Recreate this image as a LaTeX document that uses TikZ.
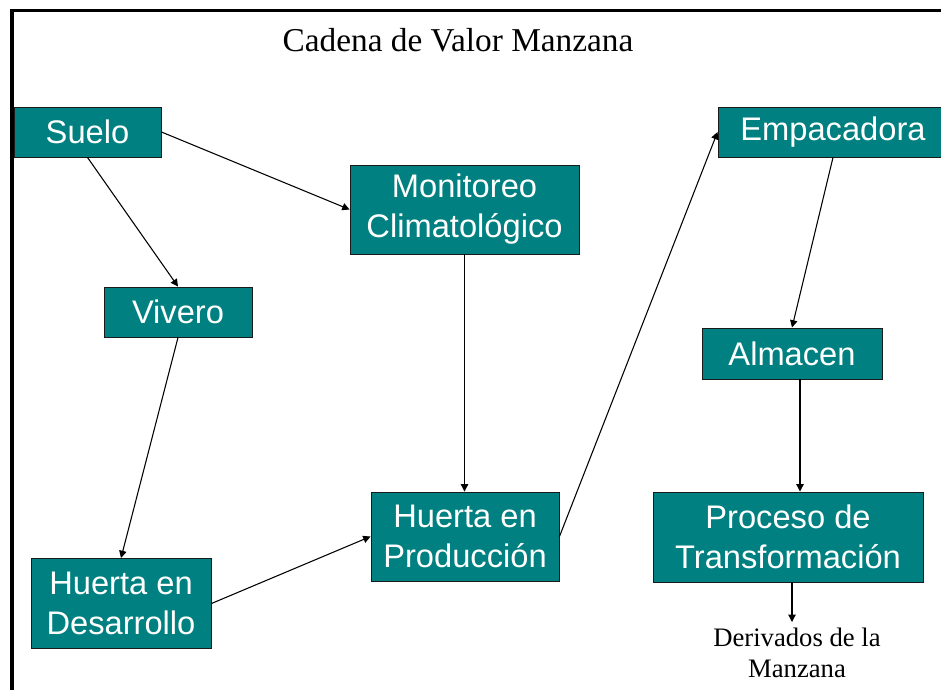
\documentclass[tikz,border=0pt]{standalone}
\usepackage{fontspec}
\setmainfont{Liberation Serif}
\setsansfont{Liberation Sans}
\usepackage{xcolor}
\usepackage{tikz}
\usetikzlibrary{arrows.meta}
\definecolor{cvteal}{HTML}{008080}
\definecolor{cvborde}{HTML}{1A1A1A}

\begin{document}
\begin{tikzpicture}[x=0.75pt, y=-0.75pt,
    etapa/.style 2 args={rectangle, draw=cvborde, line width=0.7pt, fill=cvteal, text=white,
        font=\sffamily\fontsize{24.5}{30}\selectfont, align=center, inner sep=0pt,
        minimum width=#1*0.75pt, minimum height=#2*0.75pt},
    flecha/.style={-{Triangle[length=5.5pt, width=5.5pt]}, line width=0.8pt, black},
    marco/.style={line width=2.4pt, black},
]
\clip (0,0) rectangle (941,689);
% marco de la diapositiva
\draw[marco] (945,10.5) -- (12,10.5) -- (12,693);

\node[font=\fontsize{25}{30}\selectfont] (titulo) at (458,40) {Cadena de Valor Manzana};

\node[etapa={147}{50}] (suelo) at (87.5,132) {Suelo};
\node[etapa={148}{50}] (vivero) at (178,312) {Vivero};
\node[etapa={180}{90}] (desarrollo) at (121,603.5) {Huerta en\\Desarrollo};
\node[etapa={229}{89}] (monitoreo) at (464.5,209.5) {Monitoreo\\Climatológico};
\node[etapa={188}{89}] (produccion) at (465,536.5) {Huerta en\\Producción};
\node[etapa={230}{50}] (empacadora) at (833,132) {Empacadora};
\node[etapa={180}{51}] (almacen) at (792,353.5) {Almacen};
\node[etapa={270}{90}] (proceso) at (788,537) {Proceso de\\Transformación};

\node[font=\fontsize{20}{23}\selectfont, align=center, anchor=north, inner xsep=0pt, inner ysep=4.5pt]
    (derivados) at (797,622) {Derivados de la\\Manzana};

\draw[flecha] (suelo.east) -- (monitoreo.west);
\draw[flecha] (suelo.south) -- (vivero.north);
\draw[flecha] (vivero.south) -- (desarrollo.north);
\draw[flecha] (desarrollo.east) -- (produccion.west);
\draw[flecha] (monitoreo.south) -- (monitoreo.south |- produccion.north);
\draw[flecha] (produccion.east) -- (empacadora.west);
\draw[flecha] (empacadora.south) -- (almacen.north);
\draw[flecha] ([xshift=6pt]almacen.south) -- ([xshift=6pt]almacen.south |- proceso.north);
\draw[flecha] ([xshift=3pt]proceso.south) -- ([xshift=3pt]proceso.south |- derivados.north);
\end{tikzpicture}
\end{document}
